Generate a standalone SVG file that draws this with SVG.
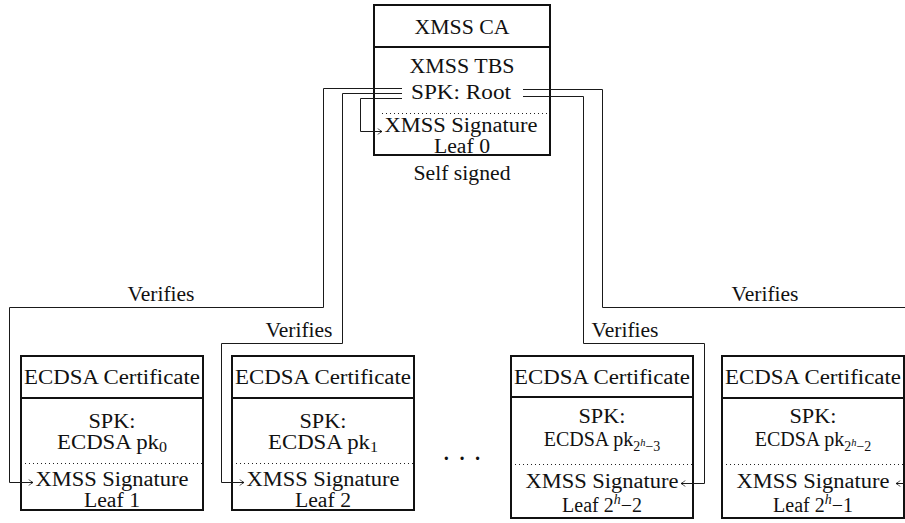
<svg xmlns="http://www.w3.org/2000/svg" width="905" height="523" viewBox="0 0 905 523">
<defs>
<marker id="arr" markerWidth="8" markerHeight="8" refX="5" refY="4" orient="auto" markerUnits="userSpaceOnUse">
<path d="M1,1 Q3,3.5 5,4 Q3,4.5 1,7" fill="none" stroke="#111" stroke-width="0.9"/>
</marker>
<style>
text{font-family:"Liberation Serif","Times New Roman",serif;font-size:20px;fill:#111;text-anchor:middle}
.box{fill:#fff;stroke:#111;stroke-width:2}
.div{stroke:#111;stroke-width:2}
.dot{stroke:#222;stroke-width:1;stroke-dasharray:1 3}
.con{fill:none;stroke:#1a1a1a;stroke-width:1}
.arr{marker-end:url(#arr)}
.sub{font-size:14px}
.ss{font-size:10.5px;font-style:italic}
</style>
</defs>
<rect width="905" height="523" fill="#fff"/>

<g id="ca">
<rect class="box" x="374" y="5" width="176" height="150"/>
<line class="div" x1="374" y1="47" x2="550" y2="47"/>
<line class="dot" x1="382" y1="113.5" x2="548" y2="113.5"/>
<text x="462" y="34" textLength="95" lengthAdjust="spacingAndGlyphs">XMSS CA</text>
<text x="462" y="73" textLength="105" lengthAdjust="spacingAndGlyphs">XMSS TBS</text>
<text x="461" y="99" textLength="100" lengthAdjust="spacingAndGlyphs">SPK: Root</text>
<text x="461" y="132" textLength="153" lengthAdjust="spacingAndGlyphs">XMSS Signature</text>
<text x="462" y="153" textLength="56" lengthAdjust="spacingAndGlyphs">Leaf 0</text>
</g>
<text x="462" y="180" textLength="97" lengthAdjust="spacingAndGlyphs">Self signed</text>

<g id="cert1">
<rect class="box" x="21" y="356" width="182" height="154"/>
<line class="div" x1="21" y1="398" x2="203" y2="398"/>
<line class="dot" x1="25" y1="463.5" x2="202" y2="463.5"/>
<text x="112" y="384" textLength="176" lengthAdjust="spacingAndGlyphs">ECDSA Certificate</text>
<text x="112" y="428" textLength="47" lengthAdjust="spacingAndGlyphs">SPK:</text>
<text x="112" y="449" textLength="110" lengthAdjust="spacingAndGlyphs">ECDSA pk<tspan class="sub" dy="3">0</tspan></text>
<text x="112" y="486" textLength="153" lengthAdjust="spacingAndGlyphs">XMSS Signature</text>
<text x="112" y="507" textLength="56" lengthAdjust="spacingAndGlyphs">Leaf 1</text>
</g>

<g id="cert2">
<rect class="box" x="232" y="356" width="182" height="154"/>
<line class="div" x1="232" y1="398" x2="414" y2="398"/>
<line class="dot" x1="236" y1="463.5" x2="413" y2="463.5"/>
<text x="323" y="384" textLength="176" lengthAdjust="spacingAndGlyphs">ECDSA Certificate</text>
<text x="323" y="428" textLength="47" lengthAdjust="spacingAndGlyphs">SPK:</text>
<text x="323" y="449" textLength="110" lengthAdjust="spacingAndGlyphs">ECDSA pk<tspan class="sub" dy="3">1</tspan></text>
<text x="323" y="486" textLength="153" lengthAdjust="spacingAndGlyphs">XMSS Signature</text>
<text x="323" y="507" textLength="56" lengthAdjust="spacingAndGlyphs">Leaf 2</text>
</g>

<text x="463" y="465" font-size="26" font-weight="bold" letter-spacing="2">· · ·</text>

<g id="cert3">
<rect class="box" x="511" y="356" width="182" height="162"/>
<line class="div" x1="511" y1="397" x2="693" y2="397"/>
<line class="dot" x1="515" y1="464.5" x2="692" y2="464.5"/>
<text x="602" y="384" textLength="176" lengthAdjust="spacingAndGlyphs">ECDSA Certificate</text>
<text x="602" y="423" textLength="47" lengthAdjust="spacingAndGlyphs">SPK:</text>
<text x="602" y="446">ECDSA pk<tspan class="sub" dy="5">2</tspan><tspan class="ss" dy="-5">h</tspan><tspan class="sub" dy="5">−3</tspan></text>
<text x="602" y="488" textLength="153" lengthAdjust="spacingAndGlyphs">XMSS Signature</text>
<text x="602" y="512">Leaf 2<tspan class="sub" font-style="italic" dy="-8">h</tspan><tspan dy="8">−2</tspan></text>
</g>

<g id="cert4">
<rect class="box" x="722" y="356" width="182" height="162"/>
<line class="div" x1="722" y1="398" x2="904" y2="398"/>
<line class="dot" x1="726" y1="464.5" x2="903" y2="464.5"/>
<text x="813" y="384" textLength="176" lengthAdjust="spacingAndGlyphs">ECDSA Certificate</text>
<text x="813" y="423" textLength="47" lengthAdjust="spacingAndGlyphs">SPK:</text>
<text x="813" y="446">ECDSA pk<tspan class="sub" dy="5">2</tspan><tspan class="ss" dy="-5">h</tspan><tspan class="sub" dy="5">−2</tspan></text>
<text x="813" y="488" textLength="153" lengthAdjust="spacingAndGlyphs">XMSS Signature</text>
<text x="813" y="512">Leaf 2<tspan class="sub" font-style="italic" dy="-8">h</tspan><tspan dy="8">−1</tspan></text>
</g>

<g id="connectors">
<path class="con arr" d="M402,88.5 H323.5 V307.5 H9.5 V482.5 H33"/>
<path class="con arr" d="M402,93.5 H342.5 V343.5 H221.5 V482.5 H244"/>
<path class="con arr" d="M402,98.5 H360.5 V131.5 H382"/>
<path class="con" d="M523,89.5 H602.5 V307.5 H905"/>
<path class="con arr" d="M523,96.5 H583.5 V343.5 H704.5 V483.5 H681"/>
<path class="con arr" d="M905,483.5 H896"/>
<text x="161" y="301" textLength="67" lengthAdjust="spacingAndGlyphs">Verifies</text>
<text x="299" y="337" textLength="67" lengthAdjust="spacingAndGlyphs">Verifies</text>
<text x="625" y="337" textLength="67" lengthAdjust="spacingAndGlyphs">Verifies</text>
<text x="765" y="301" textLength="67" lengthAdjust="spacingAndGlyphs">Verifies</text>
</g>
</svg>
